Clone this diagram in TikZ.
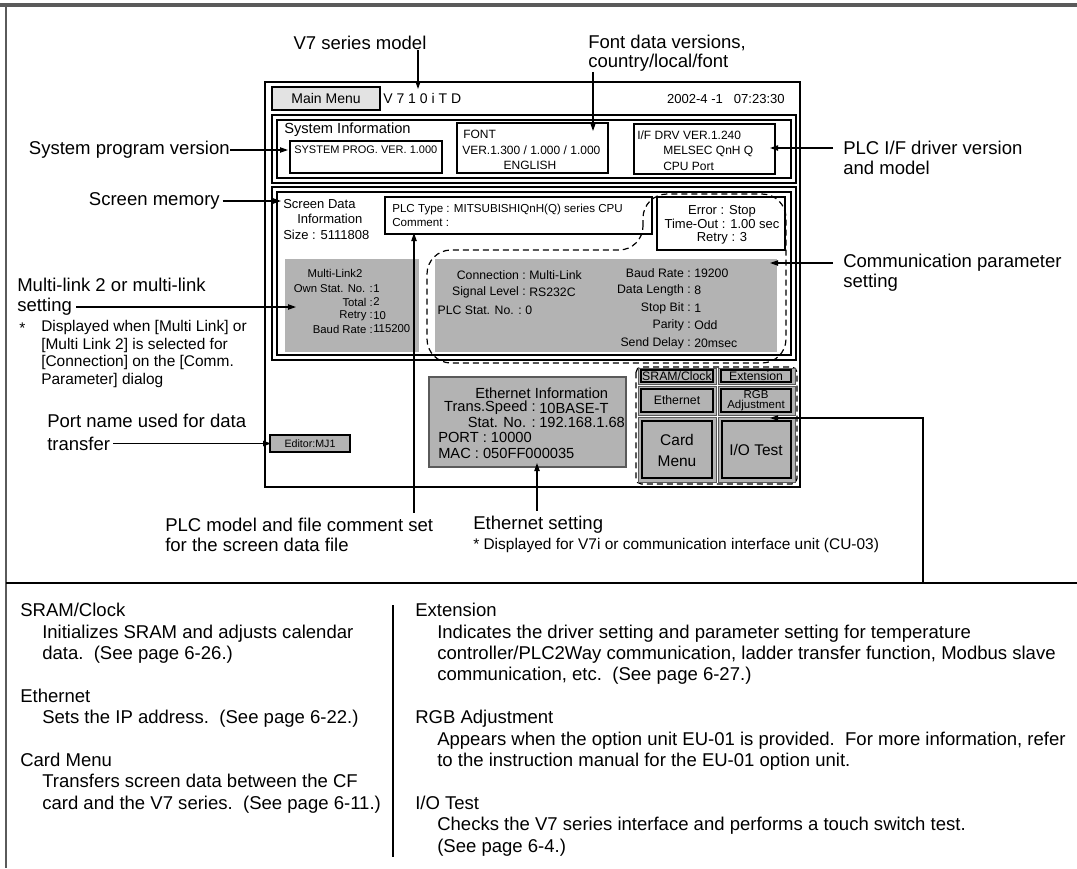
\documentclass[tikz,border=0pt]{standalone}
\usepackage{fontspec}
\setmainfont{Liberation Sans}
\usetikzlibrary{arrows.meta, positioning}
\definecolor{vgray}{HTML}{B3B3B3}
\definecolor{vlight}{HTML}{E3E3E3}
\definecolor{vframe}{HTML}{5A5A5A}
\newcommand\ind{\hspace*{16.5pt}}
\tikzset{
  lbl/.style={inner sep=0pt, font=\fontsize{13.9}{15.8}\selectfont, align=left},
  note/.style={inner sep=0pt, font=\fontsize{11.6}{13.3}\selectfont, align=left},
  desc/.style={inner sep=0pt, font=\fontsize{13.9}{16.05}\selectfont, align=left},
  scr/.style={inner sep=0pt, font=\fontsize{9}{10}\selectfont},
  thickbox/.style={draw, line width=1.5pt},
  thinbox/.style={draw, line width=1.1pt},
  graybox/.style={draw=vframe, fill=vgray, line width=0.8pt},
  btnout/.style={draw=vframe, fill=vgray, line width=0.7pt},
  btnin/.style={draw, line width=1.3pt},
  dsh/.style={dash pattern=on 4.5pt off 3pt, line width=0.9pt},
  arr/.style={-{Triangle[length=6pt, width=4pt]}, line width=0.9pt},
}

\begin{document}
\begin{tikzpicture}[x=0.75pt, y=-0.75pt]
  \useasboundingbox (0,0) rectangle (1077,868);

  %% page frame
  \draw[line width=3pt, vframe] (0,5) -- (1077,5);
  \draw[line width=1.1pt, vframe] (6,5) -- (6,868);
  \draw[line width=1.1pt] (6,583) -- (1077,583);
  \draw[line width=0.9pt] (393,605) -- (393,857);

  %% screen
  \draw[line width=1.5pt] (265,82) rectangle (800,487);
  \draw[thickbox, fill=vlight] (272,87) rectangle (380,110);
  \node[scr, font=\fontsize{10.5}{12}\selectfont] (mm) at (326,98.5) {Main Menu};
  \node[scr, anchor=west, font=\fontsize{10.5}{12}\selectfont\addfontfeature{LetterSpace=28}] (model) at (383,98.5) {V710iTD};
  \node[scr, anchor=east, font=\fontsize{9.8}{12}\selectfont] (clock) at (785,98.5) {2002-4 -1\ \ \ 07:23:30};

  %% system information
  \draw[thinbox] (272,115) rectangle (796,183);
  \draw[thinbox] (277,120) rectangle (791,178);
  \node[scr, anchor=west, font=\fontsize{11}{12}\selectfont] (sysinfo) at (284,130) {System Information};
  \draw[thickbox] (290,141) rectangle (442,173);
  \node[scr, anchor=west, font=\fontsize{8.25}{10}\selectfont] (sysprog) at (294,150) {SYSTEM PROG. VER. 1.000};
  \draw[thickbox] (457,123) rectangle (608,173);
  \node[scr, anchor=west] (font1) at (463,134) {FONT};
  \node[scr, anchor=west] (font2) at (462,150) {VER.1.300 / 1.000 / 1.000};
  \node[scr] (font3) at (530,165) {ENGLISH};
  \draw[thickbox] (634,124) rectangle (775,174);
  \node[scr, anchor=west] (drv1) at (637,135) {I/F DRV VER.1.240};
  \node[scr, anchor=west] (drv2) at (663,151) {MELSEC QnH Q};
  \node[scr, anchor=west] (drv3) at (663,166) {CPU Port};

  %% screen data information
  \draw[thinbox] (272,187) rectangle (796,360);
  \draw[thinbox] (277,192) rectangle (791,355);
  \tikzstyle{midtext} = [scr, font=\fontsize{9.75}{11}\selectfont]
  \node[midtext, anchor=west] (sd1) at (283,204) {Screen Data};
  \node[midtext, anchor=west] (sd2) at (297,219) {Information};
  \node[midtext, anchor=west] (sd3) at (283,235) {Size : 5111808};
  \draw[thickbox] (385,197) rectangle (652,234);
  \node[scr, anchor=west, font=\fontsize{8.7}{10}\selectfont] (plc1) at (392,209) {PLC Type : MITSUBISHIQnH(Q) series CPU};
  \node[scr, anchor=west, font=\fontsize{8.7}{10}\selectfont] (plc2) at (392,223) {Comment :};
  \draw[thickbox] (657,197) rectangle (785,250);
  \node[midtext] (err1) at (722,211) {Error : Stop};
  \node[midtext] (err2) at (722,224) {Time-Out : 1.00 sec};
  \node[midtext] (err3) at (722,238) {Retry : 3};

  %% multi-link 2
  \fill[vgray] (285,259) rectangle (419,352);
  \tikzstyle{mltext} = [scr, font=\fontsize{8.5}{10}\selectfont]
  \node[mltext] (ml0) at (335,273) {Multi-Link2};
  \node[mltext, anchor=east] (ml1) at (373,289) {Own Stat. No. :};
  \node[mltext, anchor=west] (mv1) at (373,289) {1};
  \node[mltext, anchor=east] (ml2) at (373,302) {Total :};
  \node[mltext, anchor=west] (mv2) at (373,302) {2};
  \node[mltext, anchor=east] (ml3) at (373,316) {Retry :};
  \node[mltext, anchor=west] (mv3) at (373,316) {10};
  \node[mltext, anchor=east] (ml4) at (373,329) {Baud Rate :};
  \node[mltext, anchor=west] (mv4) at (373,329) {115200};

  %% communication parameters
  \fill[vgray] (435,259) rectangle (777,352);
  \tikzstyle{cmtext} = [scr, font=\fontsize{9.2}{10}\selectfont]
  \node[cmtext, anchor=east] (cl1) at (526,275) {Connection :};
  \node[cmtext, anchor=west] (cv1) at (529,275) {Multi-Link};
  \node[cmtext, anchor=east] (cl2) at (526,292.5) {Signal Level :};
  \node[cmtext, anchor=west] (cv2) at (529,292.5) {RS232C};
  \node[cmtext, anchor=east] (cl3) at (522,310) {PLC Stat. No. :};
  \node[cmtext, anchor=west] (cv3) at (525,310) {0};
  \node[cmtext, anchor=east] (cr1) at (691,273) {Baud Rate :};
  \node[cmtext, anchor=west] (cw1) at (694,273) {19200};
  \node[cmtext, anchor=east] (cr2) at (691,290.5) {Data Length :};
  \node[cmtext, anchor=west] (cw2) at (694,290.5) {8};
  \node[cmtext, anchor=east] (cr3) at (691,308) {Stop Bit :};
  \node[cmtext, anchor=west] (cw3) at (694,308) {1};
  \node[cmtext, anchor=east] (cr4) at (691,325.5) {Parity :};
  \node[cmtext, anchor=west] (cw4) at (694,325.5) {Odd};
  \node[cmtext, anchor=east] (cr5) at (691,343) {Send Delay :};
  \node[cmtext, anchor=west] (cw5) at (694,343) {20msec};
  \draw[dsh, rounded corners=18] (643,250) -- (643,194) -- (786,194) -- (786,363) -- (427,363) -- (427,250) -- cycle;

  %% ethernet information
  \draw[graybox] (429,377) rectangle (626,467);
  \tikzstyle{ethtext} = [scr, font=\fontsize{11}{12}\selectfont]
  \node[ethtext, anchor=west] (et0) at (475,393) {Ethernet Information};
  \node[ethtext, anchor=east] (et1) at (536,408) {Trans.Speed :};
  \node[ethtext, anchor=west] (ev1) at (539,408) {10BASE-T};
  \node[ethtext, anchor=east] (et2) at (536,422) {Stat. No. :};
  \node[ethtext, anchor=west] (ev2) at (539,422) {192.168.1.68};
  \node[ethtext, anchor=west] (et3) at (438,437) {PORT : 10000};
  \node[ethtext, anchor=west] (et4) at (438,453) {MAC : 050FF000035};

  %% editor port
  \draw[line width=1.8pt, fill=vgray] (270,435) rectangle (350,452);
  \node[scr, font=\fontsize{8}{9}\selectfont] (editor) at (310,443.5) {Editor:MJ1};

  %% menu buttons
  \draw[dsh, rounded corners=4] (636,367) rectangle (797,484);
  \draw[btnout] (638,368) rectangle (716,384);
  \draw[btnin] (641,370) rectangle (713,382);
  \node[scr, font=\fontsize{9.2}{10}\selectfont] (bSram) at (677,376) {SRAM/Clock};
  \draw[btnout] (718,368) rectangle (795,384);
  \draw[btnin] (721,370) rectangle (791,382);
  \node[scr, font=\fontsize{9.2}{10}\selectfont] (bExt) at (756,376) {Extension};
  \draw[btnout] (638,386) rectangle (716,415);
  \draw[btnin] (641,389) rectangle (713,412);
  \node[scr, font=\fontsize{9.2}{10}\selectfont] (bEth) at (677,400.5) {Ethernet};
  \draw[btnout] (718,386) rectangle (795,415);
  \draw[btnin] (721,389) rectangle (791,412);
  \node[scr, font=\fontsize{8.6}{10}\selectfont] (bRgb1) at (756,394.5) {RGB};
  \node[scr, font=\fontsize{8.6}{10}\selectfont] (bRgb2) at (756,405.5) {Adjustment};
  \draw[btnout] (638,417) rectangle (716,482);
  \draw[btnin] (642,421) rectangle (712,478);
  \node[scr, font=\fontsize{11.6}{13}\selectfont] (bCard1) at (677,440) {Card};
  \node[scr, font=\fontsize{11.6}{13}\selectfont] (bCard2) at (677,461) {Menu};
  \draw[btnout] (718,417) rectangle (795,482);
  \draw[btnin] (722,421) rectangle (791,478);
  \node[scr, font=\fontsize{11.6}{13}\selectfont] (bIO) at (756,449.5) {I/O Test};

  %% callout tips
  \coordinate (tModel) at (418,89);
  \coordinate (tFont) at (593,131);
  \coordinate (tSys) at (288,150);
  \coordinate (tDrv) at (770,148);
  \coordinate (tMem) at (281,201);
  \coordinate (tMl) at (296,307);
  \coordinate (tPort) at (271,443.5);
  \coordinate (tComm) at (770,263);
  \coordinate (tPlc) at (414,233);
  \coordinate (tEth) at (537,463);
  \coordinate (tRgb) at (770,418);
  \coordinate (rgbEnd) at (923,583);

  %% callout labels
  \node[lbl] (cModel) at (360,43) {V7 series model};
  \node[lbl, anchor=west] (cFont1) at (588,43) {Font data versions,};
  \node[lbl, anchor=west] (cFont2) at (588,63) {country/local/font};
  \node[lbl, anchor=east] (cSys) at (230,150) {System program version};
  \node[lbl, anchor=west] (cDrv1) at (843,148) {PLC I/F driver version};
  \node[lbl, anchor=west] (cDrv2) at (843,168) {and model};
  \node[lbl, anchor=east] (cMem) at (220,201) {Screen memory};
  \node[lbl, anchor=west] (cMl1) at (17,285) {Multi-link 2 or multi-link};
  \node[lbl, anchor=west] (cMl2) at (17,307) {setting};
  \node[note, anchor=west] (cStar) at (19,328) {*};
  \node[note, anchor=north west] (cMlNote) at (41,320) {Displayed when [Multi Link] or\\{}[Multi Link 2] is selected for\\{}[Connection] on the [Comm.\\Parameter] dialog};
  \node[lbl, anchor=west] (cPort1) at (47,421) {Port name used for data};
  \node[lbl, anchor=west] (cPort2) at (47,443.5) {transfer};
  \node[lbl, anchor=west] (cComm1) at (843,263) {Communication parameter};
  \node[lbl, anchor=west] (cComm2) at (843,283) {setting};
  \node[lbl, anchor=west] (cPlc1) at (165,525) {PLC model and file comment set};
  \node[lbl, anchor=west] (cPlc2) at (165,545) {for the screen data file};
  \node[lbl, anchor=west] (cEth1) at (473,525) {Ethernet setting};
  \node[note, anchor=west] (cEth2) at (473,545) {* Displayed for V7i or communication interface unit (CU-03)};

  %% callout connectors
  \draw[arr] (cModel.south -| tModel) -- (tModel);
  \draw[arr] (cFont2.south -| tFont) -- (tFont);
  \draw[arr] (cSys.east) -- (tSys);
  \draw[arr] ([xshift=-7.5pt]cDrv1.west) -- (tDrv);
  \draw[arr] ([xshift=2pt]cMem.east) -- (tMem);
  \draw[arr] ([xshift=3pt]cMl2.east) -- (tMl);
  \draw[arr] ([xshift=2pt]cPort2.east) -- (tPort);
  \draw[arr] ([xshift=-7.5pt]cComm1.west) -- (tComm);
  \draw[arr] ([yshift=4pt]cPlc1.north -| tPlc) -- (tPlc);
  \draw[arr] ([yshift=4pt]cEth1.north -| tEth) -- (tEth);
  \draw[arr] (rgbEnd) |- (tRgb);

  %% menu descriptions
  \node[desc, anchor=north west] (dLeft) at (20,603) {SRAM/Clock\\
    \ind Initializes SRAM and adjusts calendar\\
    \ind data.\ \ (See page 6-26.)\\[16.05pt]
    Ethernet\\
    \ind Sets the IP address.\ \ (See page 6-22.)\\[16.05pt]
    Card Menu\\
    \ind Transfers screen data between the CF\\
    \ind card and the V7 series.\ \ (See page 6-11.)};
  \node[desc, anchor=north west] (dRight) at (415,603) {Extension\\
    \ind Indicates the driver setting and parameter setting for temperature\\
    \ind controller/PLC2Way communication, ladder transfer function, Modbus slave\\
    \ind communication, etc.\ \ (See page 6-27.)\\[16.05pt]
    RGB Adjustment\\
    \ind Appears when the option unit EU-01 is provided.\ \ For more information, refer\\
    \ind to the instruction manual for the EU-01 option unit.\\[16.05pt]
    I/O Test\\
    \ind Checks the V7 series interface and performs a touch switch test.\\
    \ind (See page 6-4.)};
\end{tikzpicture}
\end{document}
